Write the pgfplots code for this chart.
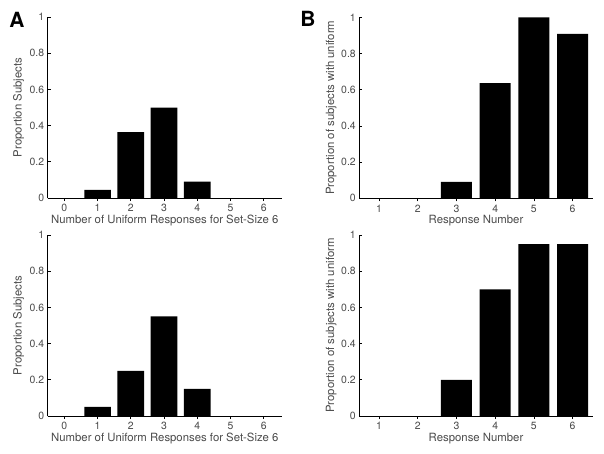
\documentclass[border=0pt]{standalone}
\usepackage{fontspec}
\setmainfont{TeX Gyre Heros}
\usepackage{pgfplots}
\pgfplotsset{compat=1.18}
\definecolor{txt}{HTML}{4A4A4A}
\newcommand{\lblfont}{\fontsize{11.4}{13}\selectfont}
\newcommand{\tckfont}{\fontsize{10.5}{12}\selectfont}
\pgfplotsset{
  panel/.style={
    scale only axis,
    height=181bp,
    ymin=0, ymax=1,
    ytick={0,0.2,0.4,0.6,0.8,1},
    axis x line*=bottom, axis y line*=left,
    axis line style={-, line width=0.9pt, black},
    tick align=inside,
    major tick length=3bp,
    tick style={line width=0.7pt, black},
    xtick=data,
    ybar, bar width=0.8,
    /pgf/number format/assume math mode=true,
    xticklabel style={font=\tckfont, text=txt},
    yticklabel style={font=\tckfont, text=txt},
    xlabel style={at={(axis description cs:0.5,0)}, yshift=-22.5bp, anchor=center, font=\lblfont, text=txt},
  },
  leftp/.style={panel, width=234.3bp, xmin=-0.5, xmax=6.55,
    xlabel={Number of Uniform Responses for Set-Size 6}, ylabel={Proportion Subjects},
    ylabel style={at={(axis description cs:0,0.5)}, yshift=29bp, anchor=center, font=\lblfont, text=txt}},
  rightp/.style={panel, width=233.4bp, xmin=0.49, xmax=6.52,
    xlabel={Response Number}, ylabel={Proportion of subjects with uniform},
    ylabel style={at={(axis description cs:0,0.5)}, yshift=28bp, anchor=center, font=\lblfont, text=txt}},
}
\begin{document}
\begin{tikzpicture}
\path[use as bounding box] (0,0) rectangle (604bp,-454bp);
% top left
\begin{axis}[leftp, at={(47.7bp,-198bp)}, anchor=south west]
\addplot[fill=black, draw=none] coordinates {(0,0) (1,0.0455) (2,0.3636) (3,0.5) (4,0.0909) (5,0) (6,0)};
\end{axis}
% top right
\begin{axis}[rightp, at={(359.3bp,-198.3bp)}, anchor=south west]
\addplot[fill=black, draw=none] coordinates {(1,0) (2,0) (3,0.0909) (4,0.6364) (5,1) (6,0.9091)};
\end{axis}
% bottom left
\begin{axis}[leftp, at={(47.7bp,-416bp)}, anchor=south west]
\addplot[fill=black, draw=none] coordinates {(0,0) (1,0.05) (2,0.25) (3,0.55) (4,0.15) (5,0) (6,0)};
\end{axis}
% bottom right
\begin{axis}[rightp, at={(359.3bp,-416bp)}, anchor=south west]
\addplot[fill=black, draw=none] coordinates {(1,0) (2,0) (3,0.2) (4,0.7) (5,0.95) (6,0.95)};
\end{axis}
\node[font=\fontsize{21}{23}\selectfont\bfseries] at (17bp,-20bp) {A};
\node[font=\fontsize{21}{23}\selectfont\bfseries] at (308bp,-19bp) {B};
\end{tikzpicture}
\end{document}
